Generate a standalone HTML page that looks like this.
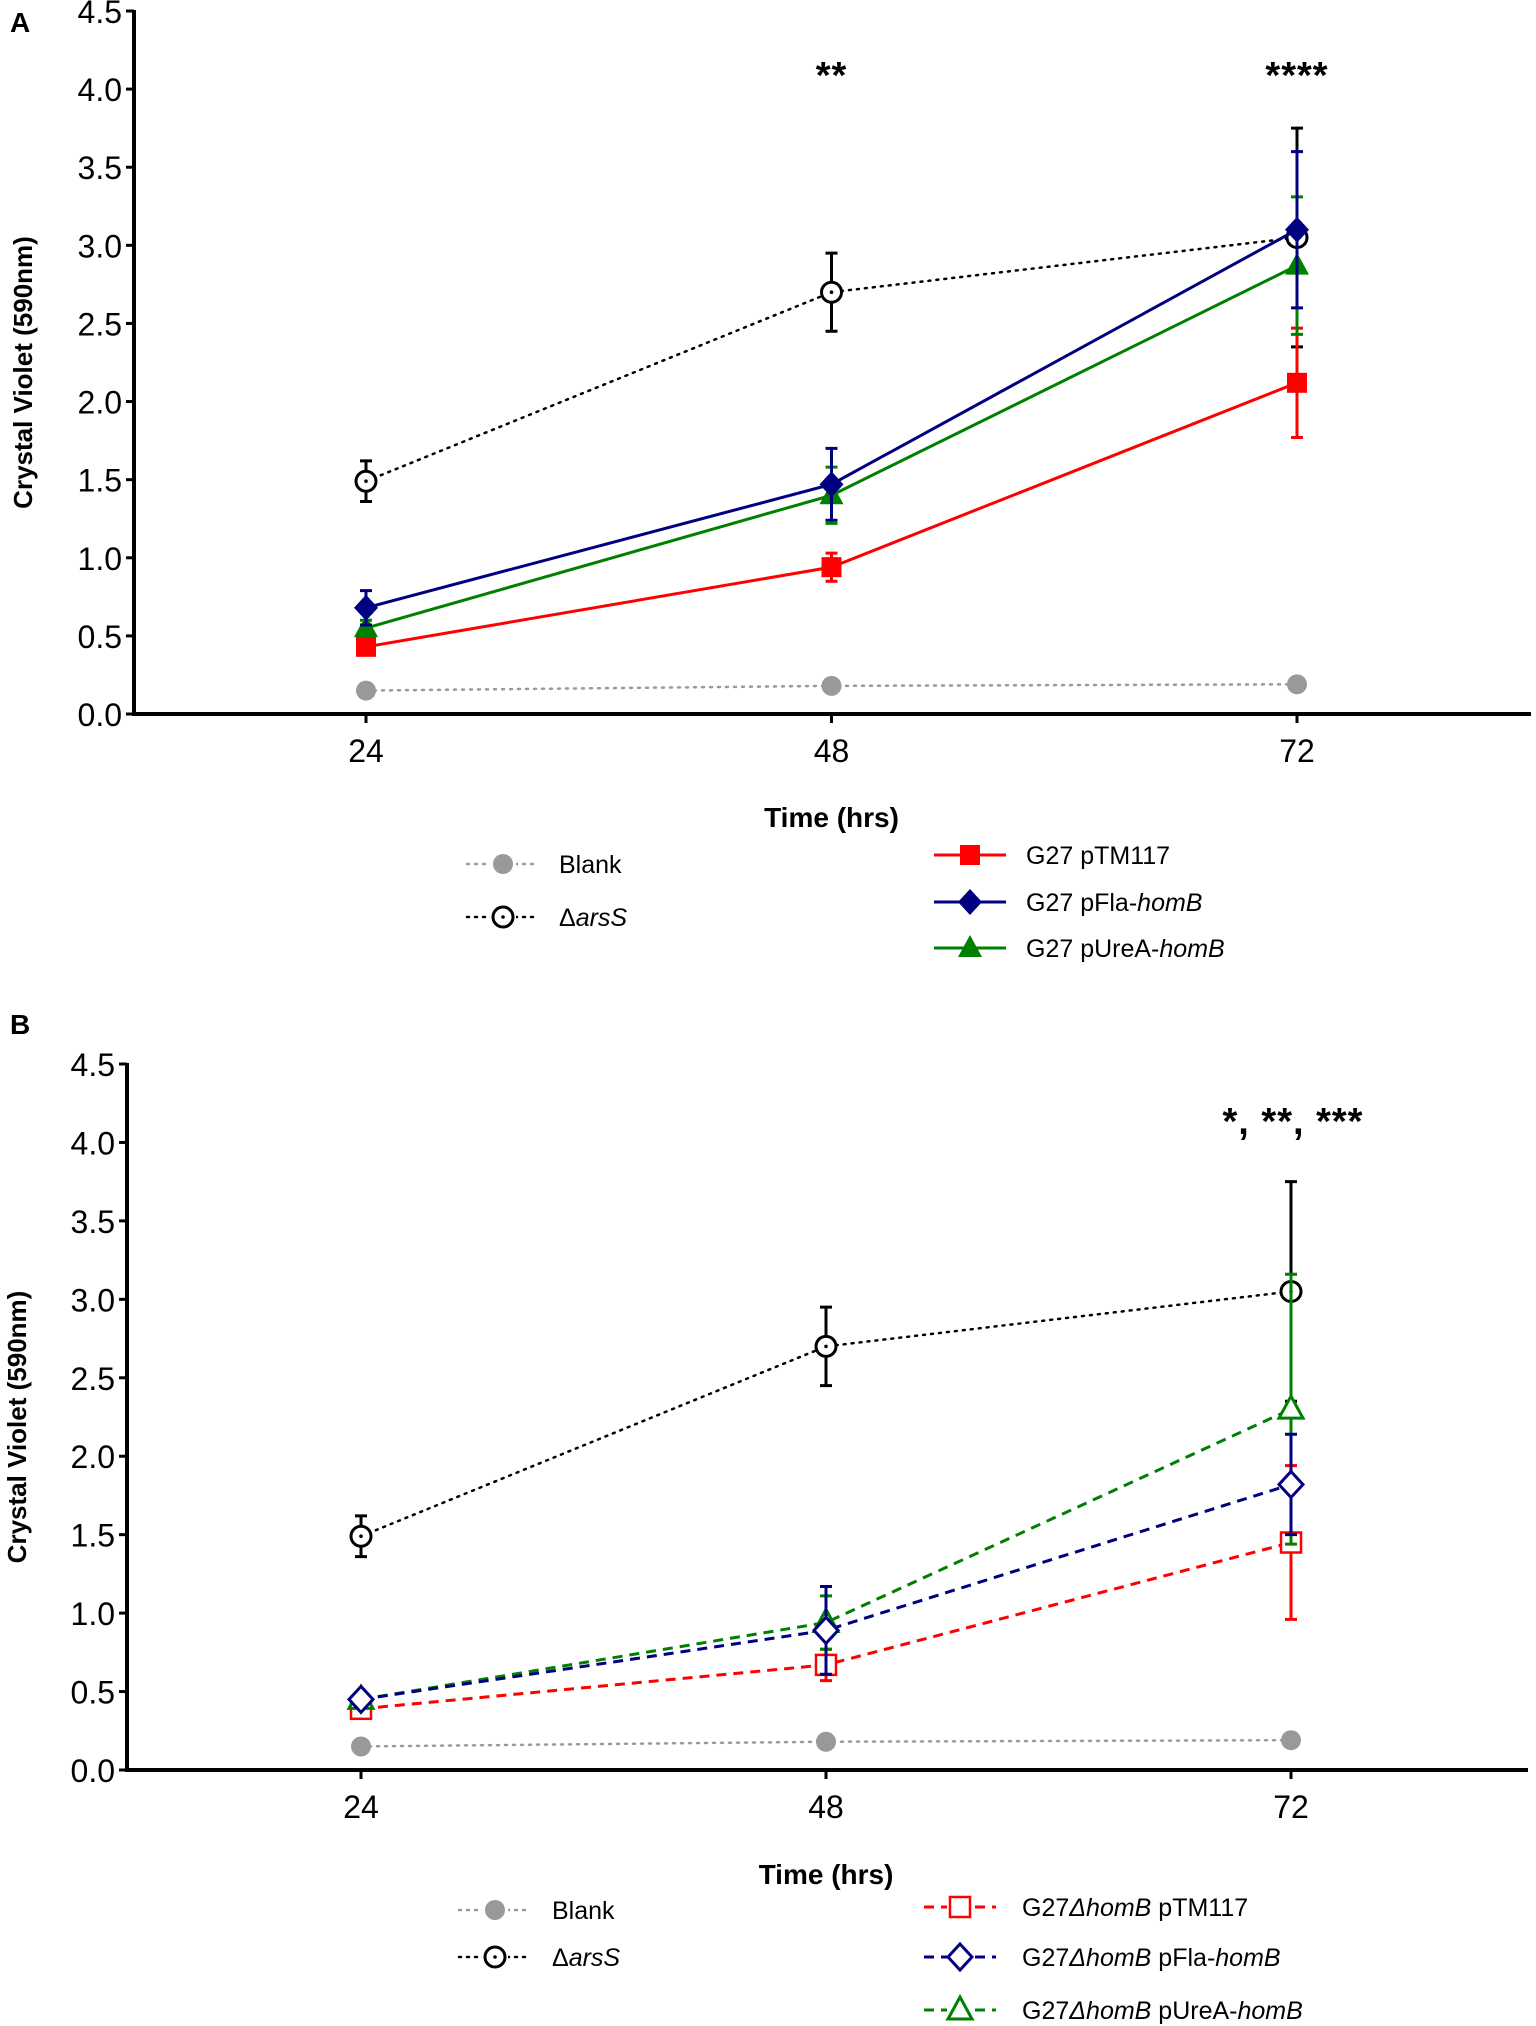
<!DOCTYPE html>
<html><head><meta charset="utf-8"><style>
html,body{margin:0;padding:0;background:#fff;}
svg{display:block;font-family:"Liberation Sans",sans-serif;}
</style></head><body>
<svg id="chart" width="1536" height="2026" viewBox="0 0 1536 2026" xmlns="http://www.w3.org/2000/svg">
</svg>
<script>
// ---- data ----
const timepoints = [24, 48, 72];
const yTicks = [0.0, 0.5, 1.0, 1.5, 2.0, 2.5, 3.0, 3.5, 4.0, 4.5];
const yTickLabels = ["0.0","0.5","1.0","1.5","2.0","2.5","3.0","3.5","4.0","4.5"];
const blankMean = [0.15, 0.18, 0.19];
const arsSMean = [1.49, 2.70, 3.05];
const arsSErr = [0.13, 0.25, 0.70];
const aTM117Mean = [0.43, 0.94, 2.12];
const aTM117Err = [0.05, 0.09, 0.35];
const aFlaMean = [0.68, 1.47, 3.10];
const aFlaErr = [0.11, 0.23, 0.50];
const aUreMean = [0.55, 1.40, 2.87];
const aUreErr = [0.05, 0.18, 0.44];
const bTM117Mean = [0.39, 0.67, 1.45];
const bTM117Err = [0.03, 0.10, 0.49];
const bFlaMean = [0.45, 0.89, 1.82];
const bFlaErr = [0.02, 0.28, 0.32];
const bUreMean = [0.45, 0.94, 2.30];
const bUreErr = [0.02, 0.17, 0.86];

const NS = "http://www.w3.org/2000/svg";
const svg = document.getElementById('chart');
function mk(tag, attrs, parent, text){
  const e = document.createElementNS(NS, tag);
  for (const k in attrs) e.setAttribute(k, attrs[k]);
  if (text !== undefined) e.textContent = text;
  (parent || svg).appendChild(e);
  return e;
}

function marker(g, type, cx, cy, color, filled){
  let m;
  const fill = filled ? color : '#fff';
  if (type === 'circle') m = mk('circle', {cx, cy, r: 10, fill, stroke: color, 'stroke-width': filled ? 0 : 3}, g);
  else if (type === 'dotcircle') { m = mk('circle', {cx, cy, r: 10, fill: '#fff', stroke: color, 'stroke-width': 3}, g); mk('circle', {cx, cy, r: 1.8, fill: color}, g); }
  else if (type === 'square') m = mk('rect', {x: cx-10, y: cy-10, width: 20, height: 20, fill, stroke: color, 'stroke-width': filled ? 0 : 2.5}, g);
  else if (type === 'diamond') m = mk('polygon', {points: `${cx},${cy-13} ${cx+12},${cy} ${cx},${cy+13} ${cx-12},${cy}`, fill, stroke: color, 'stroke-width': filled ? 0 : 3}, g);
  else if (type === 'triangle') m = mk('polygon', {points: `${cx},${cy-13} ${cx+12},${cy+9} ${cx-12},${cy+9}`, fill, stroke: color, 'stroke-width': filled ? 0 : 3}, g);
  return m;
}

function panel(cfg){
  const g = mk('g', {});
  
  
  const xPos = cfg.xPos;
  const xScale = i => xPos[0] + (xPos[2]-xPos[0]) * (timepoints[i]-timepoints[0])/(timepoints[2]-timepoints[0]);
  const yScale = v => cfg.y0 - (cfg.y0 - cfg.y45) * v / 4.5;

  const lbl = mk('text', {x: cfg.letterX, y: cfg.letterY, 'font-size': 28, 'font-weight': 'bold'}, g, cfg.letter);
  
  

  const ya = mk('line', {x1: cfg.ax, y1: cfg.y45 - 1, x2: cfg.ax, y2: cfg.y0 + 2, stroke: '#000', 'stroke-width': 4}, g);
  
  
  const xa = mk('line', {x1: cfg.ax - 2, y1: cfg.y0, x2: cfg.axEnd, y2: cfg.y0, stroke: '#000', 'stroke-width': 4}, g);
  
  
  yTicks.forEach((v, i) => {
    const y = yScale(v);
    mk('line', {x1: cfg.ax - 8, y1: y, x2: cfg.ax, y2: y, stroke: '#000', 'stroke-width': 3}, g);
    const t = mk('text', {x: cfg.ax - 12, y: y + 12, 'font-size': 32, 'text-anchor': 'end'}, g, yTickLabels[i]);
    
    
  });
  timepoints.forEach((tp, i) => {
    const x = xScale(i);
    mk('line', {x1: x, y1: cfg.y0, x2: x, y2: cfg.y0 + 9, stroke: '#000', 'stroke-width': 3}, g);
    const t = mk('text', {x, y: cfg.y0 + 48, 'font-size': 32, 'text-anchor': 'middle'}, g, String(tp));
    
    
  });
  const xt = mk('text', {x: xScale(1), y: cfg.xTitleY, 'font-size': 28, 'font-weight': 'bold', 'text-anchor': 'middle'}, g, 'Time (hrs)');
  
  
  const ycy = (cfg.y0 + cfg.y45) / 2 + 10;
  const yt = mk('text', {x: cfg.yTitleX, y: ycy, 'font-size': 26, 'font-weight': 'bold', 'text-anchor': 'middle', transform: `rotate(-90 ${cfg.yTitleX} ${ycy})`}, g, 'Crystal Violet (590nm)');
  
  

  cfg.series.forEach(s => {
    const sg = mk('g', {}, g);
    
    
    if (s.err) s.mean.forEach((m, i) => {
      const x = xScale(i), e = s.err[i];
      const top = yScale(m + e), bot = yScale(m - e);
      const eb = mk('path', {d: `M${x},${top}V${bot}M${x-6},${top}H${x+6}M${x-6},${bot}H${x+6}`, stroke: s.color, 'stroke-width': 3, fill: 'none'}, sg);
      
      
    });
    const pts = s.mean.map((m, i) => `${xScale(i)},${yScale(m)}`).join(' ');
    const pl = mk('polyline', {points: pts, fill: 'none', stroke: s.color, 'stroke-width': s.dash === 'dot' ? 2.5 : 3, 'stroke-dasharray': s.dash === 'dot' ? '2 6' : (s.dash === 'dash' ? '10 7' : 'none'), 'stroke-linecap': s.dash === 'dot' ? 'round' : 'butt'}, sg);
    
    
    s.mean.forEach((m, i) => {
      const mm = marker(sg, s.marker, xScale(i), yScale(m), s.color, s.filled);
      
      
    });
  });

  cfg.stars.forEach(st => {
    const t = mk('text', {x: xScale(st.i) + (st.dx || 0), y: st.y, 'font-size': 38, 'font-weight': 'bold', 'text-anchor': 'middle', 'letter-spacing': 1}, g, st.text);
    
    
  });

  cfg.legend.forEach(l => {
    const lg = mk('g', {}, g);
    
    
    const solid = l.s.dash === 'solid';
    mk('line', {x1: l.mx - 36, y1: l.y, x2: l.mx + 36, y2: l.y, stroke: l.s.color, 'stroke-width': l.s.dash === 'dot' ? 2.5 : 3, 'stroke-dasharray': l.s.dash === 'dot' ? '2 6' : (l.s.dash === 'dash' ? '10 7' : 'none'), 'stroke-linecap': l.s.dash === 'dot' ? 'round' : 'butt'}, lg);
    if (!solid) mk('rect', {x: l.mx - 13, y: l.y - 14, width: 26, height: 28, fill: '#fff'}, lg);
    marker(lg, l.s.marker, l.mx, l.y, l.s.color, l.s.filled);
    const t = mk('text', {x: l.tx, y: l.y + 9, 'font-size': 25}, lg);
    l.parts.forEach(p => { mk('tspan', p[1] ? {'font-style': 'italic'} : {}, t, p[0]); });
  });
}

const blank = {name: 'series-blank', mean: blankMean, err: null, color: '#999999', marker: 'circle', filled: true, dash: 'dot'};
const ars = {name: 'series-arsS', mean: arsSMean, err: arsSErr, color: '#000000', marker: 'dotcircle', filled: false, dash: 'dot'};

panel({
  name: 'panel-a', letter: 'A', letterX: 10, letterY: 32,
  ax: 134, axEnd: 1531, y0: 714, y45: 11, xPos: [366, 832, 1297],
  xTitleY: 827, yTitleX: 32,
  series: [
    ars, blank,
    {name: 'series-a-ptm117', mean: aTM117Mean, err: aTM117Err, color: '#ff0000', marker: 'square', filled: true, dash: 'solid'},
    {name: 'series-a-pure', mean: aUreMean, err: aUreErr, color: '#008000', marker: 'triangle', filled: true, dash: 'solid'},
    {name: 'series-a-pfla', mean: aFlaMean, err: aFlaErr, color: '#000080', marker: 'diamond', filled: true, dash: 'solid'}
  ],
  stars: [{i: 1, y: 88, text: '**'}, {i: 2, y: 88, text: '****'}],
  legend: [
    {s: blank, mx: 503, tx: 559, y: 864, parts: [['Blank']]},
    {s: ars, mx: 503, tx: 559, y: 917, parts: [['Δ'], ['arsS', 1]]},
    {s: {color: '#ff0000', marker: 'square', filled: true, dash: 'solid'}, mx: 970, tx: 1026, y: 855, parts: [['G27 pTM117']]},
    {s: {color: '#000080', marker: 'diamond', filled: true, dash: 'solid'}, mx: 970, tx: 1026, y: 902, parts: [['G27 pFla-'], ['homB', 1]]},
    {s: {color: '#008000', marker: 'triangle', filled: true, dash: 'solid'}, mx: 970, tx: 1026, y: 948, parts: [['G27 pUreA-'], ['homB', 1]]}
  ]
});

panel({
  name: 'panel-b', letter: 'B', letterX: 10, letterY: 1034,
  ax: 127, axEnd: 1528, y0: 1770, y45: 1064, xPos: [361, 826, 1291],
  xTitleY: 1884, yTitleX: 26,
  series: [
    ars, blank,
    {name: 'series-b-ptm117', mean: bTM117Mean, err: bTM117Err, color: '#ff0000', marker: 'square', filled: false, dash: 'dash'},
    {name: 'series-b-pure', mean: bUreMean, err: bUreErr, color: '#008000', marker: 'triangle', filled: false, dash: 'dash'},
    {name: 'series-b-pfla', mean: bFlaMean, err: bFlaErr, color: '#000080', marker: 'diamond', filled: false, dash: 'dash'}
  ],
  stars: [{i: 2, dx: 2, y: 1134, text: '*,  **,  ***'}],
  legend: [
    {s: blank, mx: 495, tx: 552, y: 1910, parts: [['Blank']]},
    {s: ars, mx: 495, tx: 552, y: 1957, parts: [['Δ'], ['arsS', 1]]},
    {s: {color: '#ff0000', marker: 'square', filled: false, dash: 'dash'}, mx: 960, tx: 1022, y: 1907, parts: [['G27'], ['ΔhomB', 1], [' pTM117']]},
    {s: {color: '#000080', marker: 'diamond', filled: false, dash: 'dash'}, mx: 960, tx: 1022, y: 1957, parts: [['G27'], ['ΔhomB', 1], [' pFla-'], ['homB', 1]]},
    {s: {color: '#008000', marker: 'triangle', filled: false, dash: 'dash'}, mx: 960, tx: 1022, y: 2010, parts: [['G27'], ['ΔhomB', 1], [' pUreA-'], ['homB', 1]]}
  ]
});
</script>
</body></html>
